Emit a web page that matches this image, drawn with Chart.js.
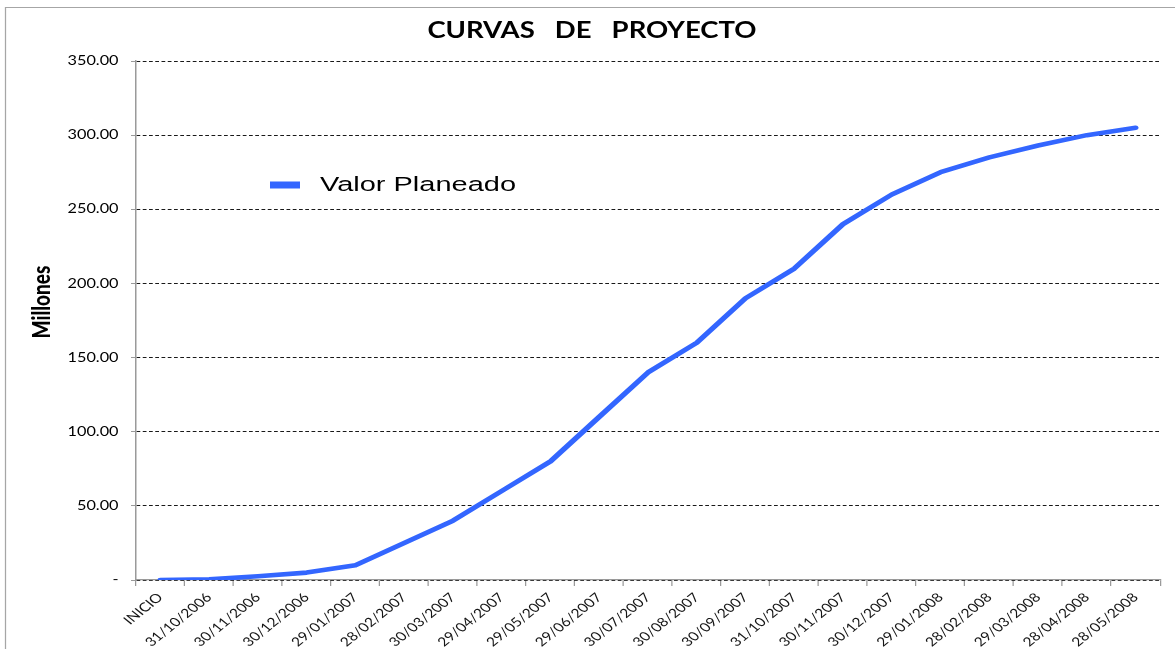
<!DOCTYPE html>
<html>
<head>
<meta charset="utf-8">
<script src="https://cdn.jsdelivr.net/npm/chart.js@4.4.1/dist/chart.umd.min.js"></script>
<style>
  html, body { margin: 0; padding: 0; background: #ffffff; overflow: hidden; }
  canvas { display: block; }
</style>
</head>
<body>
<canvas id="c" width="940" height="649"></canvas>
<script>
// ---- data ----
const chartTitle = 'CURVAS   DE   PROYECTO';
const yAxisTitle = 'Millones';
const seriesLabel = 'Valor Planeado';
const categories = ['INICIO','31/10/2006','30/11/2006','30/12/2006','29/01/2007','28/02/2007','30/03/2007','29/04/2007','29/05/2007','29/06/2007','30/07/2007','30/08/2007','30/09/2007','31/10/2007','30/11/2007','30/12/2007','29/01/2008','28/02/2008','29/03/2008','28/04/2008','28/05/2008'];
const valorPlaneado = [0, 0.5, 2.5, 5, 10, 25, 40, 60, 80, 110, 140, 160, 190, 210, 240, 260, 275, 285, 293, 300, 305];
const yTickValues = [0, 50, 100, 150, 200, 250, 300, 350];
const yTickLabels = ['-', '50.00', '100.00', '150.00', '200.00', '250.00', '300.00', '350.00'];

// The reference picture is stretched horizontally; draw in a narrower logical space and stretch.
const STRETCH = 1.25;
const PAD_LEFT = 19.2;
const PAD_RIGHT = 12;
const AREA_LEFT = 108.8, AREA_BOTTOM = 580;

const decor = {
  id: 'decor',
  beforeDraw(chart) {
    const ctx = chart.ctx;
    ctx.save();
    ctx.strokeStyle = '#a6a6a6';
    ctx.lineWidth = 1;
    ctx.beginPath();
    ctx.moveTo(4.4, 700);
    ctx.lineTo(4.4, 7.5);
    ctx.lineTo(1000, 7.5);
    ctx.stroke();
    ctx.restore();
  },
  afterDraw(chart) {
    const ctx = chart.ctx;
    const ds = chart.data.datasets[0];
    ctx.save();
    // legend inside plot
    ctx.fillStyle = ds.borderColor;
    ctx.fillRect(216, 181.5, 24, 7);
    ctx.fillStyle = '#000000';
    ctx.font = '20.5px "Liberation Sans", Arial, sans-serif';
    ctx.textBaseline = 'middle';
    ctx.textAlign = 'left';
    const w = ctx.measureText(ds.label).width;
    ctx.save();
    ctx.translate(256, 185.5);
    ctx.scale(156.8 / w, 1);
    ctx.fillText(ds.label, 0, 0);
    ctx.restore();
    // y axis title
    ctx.translate(33.6, 302);
    ctx.rotate(-Math.PI / 2);
    ctx.font = '900 19px Lato, "Liberation Sans", sans-serif';
    ctx.textAlign = 'center';
    ctx.textBaseline = 'middle';
    ctx.fillText(yAxisTitle, 0, 0);
    ctx.restore();
  }
};

const canvas = document.getElementById('c');
const chart = new Chart(canvas, {
  type: 'line',
  data: {
    labels: categories,
    datasets: [{
      label: seriesLabel,
      data: valorPlaneado,
      borderColor: '#3366ff',
      backgroundColor: '#3366ff',
      borderWidth: 4.6,
      pointRadius: 0,
      tension: 0,
      borderJoinStyle: 'round',
      borderCapStyle: 'round',
      fill: false
    }]
  },
  options: {
    responsive: false,
    animation: false,
    events: [],
    devicePixelRatio: 1,
    layout: { padding: { left: PAD_LEFT, right: PAD_RIGHT, top: 0, bottom: 0 } },
    plugins: {
      legend: { display: false },
      tooltip: { enabled: false },
      title: {
        display: true,
        text: chartTitle,
        color: '#000000',
        font: { family: 'Lato, "Liberation Sans", sans-serif', size: 22, weight: 'bold', lineHeight: 1.2 },
        padding: { top: 17.8, bottom: 16.8 }
      }
    },
    scales: {
      x: {
        type: 'category',
        offset: true,
        grid: {
          display: true,
          offset: true,
          drawOnChartArea: false,
          drawTicks: true,
          tickLength: 6,
          tickColor: '#9a9a9a',
          color: '#9a9a9a'
        },
        border: { display: true, color: '#9a9a9a', width: 1.2 },
        ticks: {
          autoSkip: false,
          minRotation: 45,
          maxRotation: 45,
          padding: 4,
          color: '#151515',
          font: { family: 'Lato, "Liberation Sans", sans-serif', size: 12.5 }
        },
        afterFit(scale) { scale.height = 649 - AREA_BOTTOM; }
      },
      y: {
        min: 0,
        max: 350,
        afterBuildTicks(scale) { scale.ticks = yTickValues.map(v => ({ value: v })); },
        grid: {
          color: 'rgba(0,0,0,0.9)',
          lineWidth: 1,
          drawTicks: true,
          tickLength: 4,
          tickColor: '#9a9a9a',
          tickBorderDash: [],
          tickWidth: 1
        },
        border: { display: true, color: '#9a9a9a', width: 1.2, dash: [3, 2] },
        ticks: {
          padding: 10,
          color: '#000000',
          font: { family: 'Lato, "Liberation Sans", sans-serif', size: 13 },
          callback: (value, index) => yTickLabels[yTickValues.indexOf(value)]
        },
        afterFit(scale) { scale.width = AREA_LEFT - PAD_LEFT; }
      }
    }
  },
  plugins: [decor]
});

// stretch horizontally, keep crisp rendering
canvas.width = 1175;
canvas.height = 649;
canvas.style.width = '1175px';
canvas.style.height = '649px';
chart.ctx.setTransform(STRETCH, 0, 0, 1, 0, 0);
chart.draw();
</script>
</body>
</html>
